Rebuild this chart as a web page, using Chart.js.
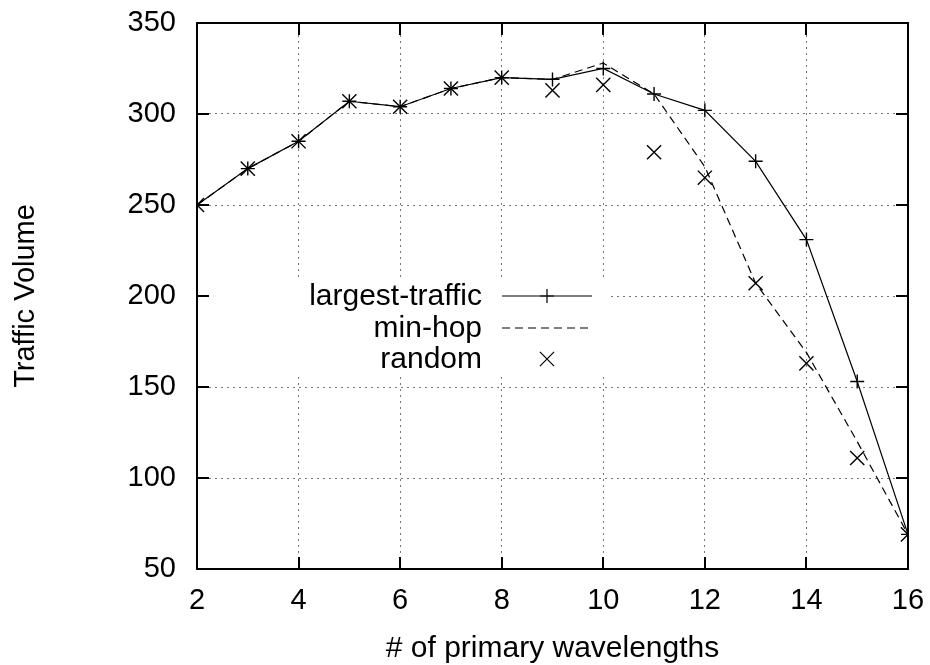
<!DOCTYPE html>
<html>
<head>
<meta charset="utf-8">
<script src="https://cdn.jsdelivr.net/npm/chart.js@4/dist/chart.umd.min.js"></script>
<style>
  html, body { margin: 0; padding: 0; background: #fff; }
  canvas { display: block; }
</style>
</head>
<body>
<canvas id="c" width="930" height="665"></canvas>
<script>
// Number of primary wavelengths (x axis)
const wavelengths = [2, 3, 4, 5, 6, 7, 8, 9, 10, 11, 12, 13, 14, 15, 16];

// Traffic volume carried by each assignment policy
const largestTraffic = [250, 270, 285, 307, 304, 314, 320, 319, 325, 311, 302, 274, 231, 153, 69];
const minHop         = [250, 270, 285, 307, 304, 314, 320, 319, 328, 311, 271, 207, 169, 120, 69];
const randomPolicy   = [250, 270, 285, 307, 304, 314, 320, 313, 316, 279, 265, 207, 163, 111, 69];

const seriesLabels = ['largest-traffic', 'min-hop', 'random'];

// Axis ranges and tick steps
const xRange = [2, 16], xStep = 2;
const yRange = [50, 350], yStep = 50;

const FONT = '"Liberation Sans", Arial, Helvetica, sans-serif';
const toPoints = vals => wavelengths.map((x, i) => ({ x, y: vals[i] }));

// Frame with inward tick marks on all four sides
const framePlugin = {
  id: 'frame',
  afterDraw(chart) {
    const { ctx, chartArea: a, scales } = chart;
    const tickLen = 12;
    ctx.save();
    ctx.strokeStyle = '#000';
    ctx.lineWidth = 2;
    ctx.beginPath();
    scales.x.ticks.forEach(t => {
      const px = Math.round(scales.x.getPixelForValue(t.value));
      ctx.moveTo(px, a.bottom); ctx.lineTo(px, a.bottom - tickLen);
      ctx.moveTo(px, a.top); ctx.lineTo(px, a.top + tickLen);
    });
    scales.y.ticks.forEach(t => {
      const py = Math.round(scales.y.getPixelForValue(t.value));
      ctx.moveTo(a.left, py); ctx.lineTo(a.left + tickLen, py);
      ctx.moveTo(a.right, py); ctx.lineTo(a.right - tickLen, py);
    });
    ctx.stroke();
    ctx.strokeRect(a.left, a.top, a.right - a.left, a.bottom - a.top);
    ctx.restore();
  }
};

// Key placed inside the plot: labels right-aligned, line/marker sample to the right
const keyPlugin = {
  id: 'key',
  afterDatasetsDraw(chart) {
    const { ctx, chartArea: a } = chart;
    const textRight = 482, sampleL = 502, sampleR = 592;
    const rowY = [296, 328, 359];
    ctx.save();
    ctx.fillStyle = '#fff';
    ctx.fillRect(a.left + 1, 280, 607 - a.left, 96);
    ctx.font = '30px ' + FONT;
    ctx.textAlign = 'right';
    ctx.textBaseline = 'middle';
    chart.data.datasets.forEach((ds, i) => {
      const y = rowY[i];
      ctx.fillStyle = '#000';
      ctx.fillText(ds.label, textRight, y + 1);
      ctx.strokeStyle = ds.borderColor;
      if (ds.showLine !== false) {
        ctx.lineWidth = ds.borderWidth;
        ctx.setLineDash(ds.borderDash || []);
        ctx.beginPath();
        ctx.moveTo(sampleL, y); ctx.lineTo(sampleR, y);
        ctx.stroke();
        ctx.setLineDash([]);
      }
      if (ds.pointRadius > 0) {
        Chart.helpers.drawPoint(ctx, {
          pointStyle: ds.pointStyle,
          radius: ds.pointRadius,
          borderWidth: ds.pointBorderWidth,
          rotation: 0
        }, (sampleL + sampleR) / 2, y);
      }
    });
    ctx.restore();
  }
};

new Chart(document.getElementById('c'), {
  type: 'line',
  data: {
    datasets: [
      {
        label: seriesLabels[0],
        data: toPoints(largestTraffic),
        borderColor: '#000', backgroundColor: '#000',
        borderWidth: 1.2,
        pointStyle: 'cross', pointRadius: 7, pointBorderWidth: 1.4,
        pointBorderColor: '#000', tension: 0, fill: false
      },
      {
        label: seriesLabels[1],
        data: toPoints(minHop),
        borderColor: '#000', backgroundColor: '#000',
        borderWidth: 1.2, borderDash: [8, 5],
        pointRadius: 0, tension: 0, fill: false
      },
      {
        label: seriesLabels[2],
        data: toPoints(randomPolicy),
        borderColor: '#000', backgroundColor: '#000',
        showLine: false,
        pointStyle: 'crossRot', pointRadius: 10, pointBorderWidth: 1.4,
        pointBorderColor: '#000', fill: false
      }
    ]
  },
  options: {
    responsive: false,
    animation: false,
    devicePixelRatio: 1,
    layout: { padding: { left: 0, right: 22, top: 23, bottom: 0 } },
    plugins: { legend: { display: false }, tooltip: { enabled: false } },
    scales: {
      x: {
        type: 'linear',
        min: xRange[0], max: xRange[1],
        afterFit(scale) {
          scale.height = 96;
          scale.paddingLeft = 0;
          scale.paddingRight = 0;
        },
        ticks: { stepSize: xStep, color: '#000', padding: 15, font: { family: FONT, size: 29 } },
        grid: { color: '#777', lineWidth: 1, drawTicks: false },
        border: { display: false, dash: [2, 4] },
        title: {
          display: true, text: '# of primary wavelengths', color: '#000',
          font: { family: FONT, size: 30 }, padding: { top: 0, bottom: -2 }
        }
      },
      y: {
        type: 'linear',
        min: yRange[0], max: yRange[1],
        afterFit(scale) {
          scale.width = 197;
          scale.paddingTop = 0;
          scale.paddingBottom = 0;
        },
        ticks: { stepSize: yStep, color: '#000', padding: 21, font: { family: FONT, size: 29 } },
        grid: { color: '#777', lineWidth: 1, drawTicks: false },
        border: { display: false, dash: [2, 4] },
        title: {
          display: true, text: 'Traffic Volume', color: '#000',
          font: { family: FONT, size: 29 }, padding: { top: 9, bottom: 0 }
        }
      }
    }
  },
  plugins: [keyPlugin, framePlugin]
});
</script>
</body>
</html>
